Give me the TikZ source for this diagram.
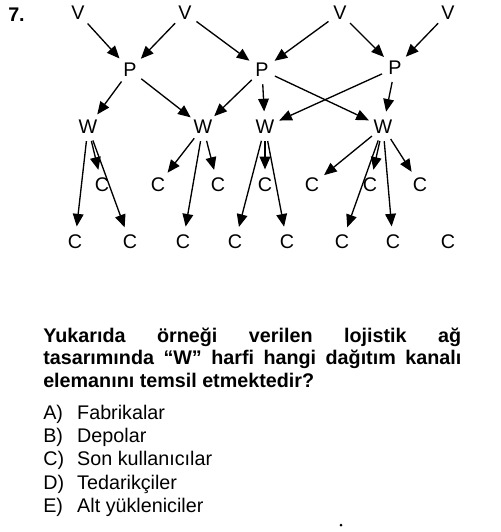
\documentclass[tikz,border=0pt]{standalone}
\usepackage{fontspec}
\setmainfont{Liberation Sans}
\usepackage{tikz}
\usetikzlibrary{arrows.meta}

\begin{document}
\begin{tikzpicture}[x=0.75pt, y=-0.75pt,
    every node/.style={font=\fontsize{14.8}{17}\selectfont},
    item/.style={circle, inner sep=0pt, minimum size=21pt},
    flow/.style={-{Triangle[length=9.5pt,width=8pt]}, line width=1pt, shorten >=1pt},
    line/.style={anchor=base west, inner sep=0pt},
    ask/.style={line, font=\fontsize{14.8}{17}\selectfont\bfseries}]
    \useasboundingbox (0,0) rectangle (500,532);

    % Define nodes
    \node[ask] (num) at (8,21) {7.};

    \node[item] (v1) at (78,13) {V};
    \node[item] (v2) at (185,13) {V};
    \node[item] (v3) at (340,13) {V};
    \node[item] (v4) at (448,13) {V};

    \node[item] (p1) at (130,70) {P};
    \node[item] (p2) at (262,70) {P};
    \node[item] (p3) at (395,68) {P};

    \node[item] (w1) at (88,127) {W};
    \node[item] (w2) at (203,127) {W};
    \node[item] (w3) at (265,127) {W};
    \node[item] (w4) at (383,127) {W};

    \node[item] (c1) at (102,185) {C};
    \node[item] (c2) at (158,185) {C};
    \node[item] (c3) at (218,185) {C};
    \node[item] (c4) at (265,185) {C};
    \node[item] (c5) at (312,185) {C};
    \node[item] (c6) at (370,185) {C};
    \node[item] (c7) at (420,185) {C};

    \node[item] (c8) at (75,242) {C};
    \node[item] (c9) at (130,242) {C};
    \node[item] (c10) at (183,242) {C};
    \node[item] (c11) at (235,242) {C};
    \node[item] (c12) at (287,242) {C};
    \node[item] (c13) at (342,242) {C};
    \node[item] (c14) at (393,242) {C};
    \node[item] (c15) at (448,242) {C};

    % Draw edges
    \draw[flow] (v1) -- (p1);
    \draw[flow] (v2) -- (p1);
    \draw[flow] (v2) -- (p2);
    \draw[flow] (v3) -- (p2);
    \draw[flow] (v3) -- (p3);
    \draw[flow] (v4) -- (p3);

    \draw[flow] (p1) -- (w1);
    \draw[flow] (p1) -- (w2);
    \draw[flow] (p2) -- (w2);
    \draw[flow] (p2) -- (w3);
    \draw[flow] (p2) -- (w4);
    \draw[flow] (p3) -- (w3);
    \draw[flow] (p3) -- (w4);

    \draw[flow] (w1) -- (c1);
    \draw[flow] (w1) -- (c8);
    \draw[flow] (w1) -- (c9);

    \draw[flow] (w2) -- (c2);
    \draw[flow] (w2) -- (c3);
    \draw[flow] (w2) -- (c10);

    \draw[flow] (w3) -- (c4);
    \draw[flow] (w3) -- (c11);
    \draw[flow] (w3) -- (c12);

    \draw[flow] (w4) -- (c5);
    \draw[flow] (w4) -- (c6);
    \draw[flow] (w4) -- (c7);
    \draw[flow] (w4) -- (c13);
    \draw[flow] (w4) -- (c14);

    % Question and options
    \node[ask] (q1) at (43,342)
        {\makebox[313.5pt][s]{Yukarıda örneği verilen lojistik ağ}};
    \node[ask] (q2) at (43,364)
        {\makebox[313.5pt][s]{tasarımında “W” harfi hangi dağıtım kanalı}};
    \node[ask] (q3) at (43,387) {elemanını temsil etmektedir?};

    \node[line] (a) at (43,419) {\makebox[25.5pt][l]{A)}Fabrikalar};
    \node[line] (b) at (43,442) {\makebox[25.5pt][l]{B)}Depolar};
    \node[line] (c) at (43,465) {\makebox[25.5pt][l]{C)}Son kullanıcılar};
    \node[line] (d) at (43,489) {\makebox[25.5pt][l]{D)}Tedarikçiler};
    \node[line] (e) at (43,512) {\makebox[25.5pt][l]{E)}Alt yükleniciler};

    \fill (341,525) circle (1.5);
\end{tikzpicture}
\end{document}
